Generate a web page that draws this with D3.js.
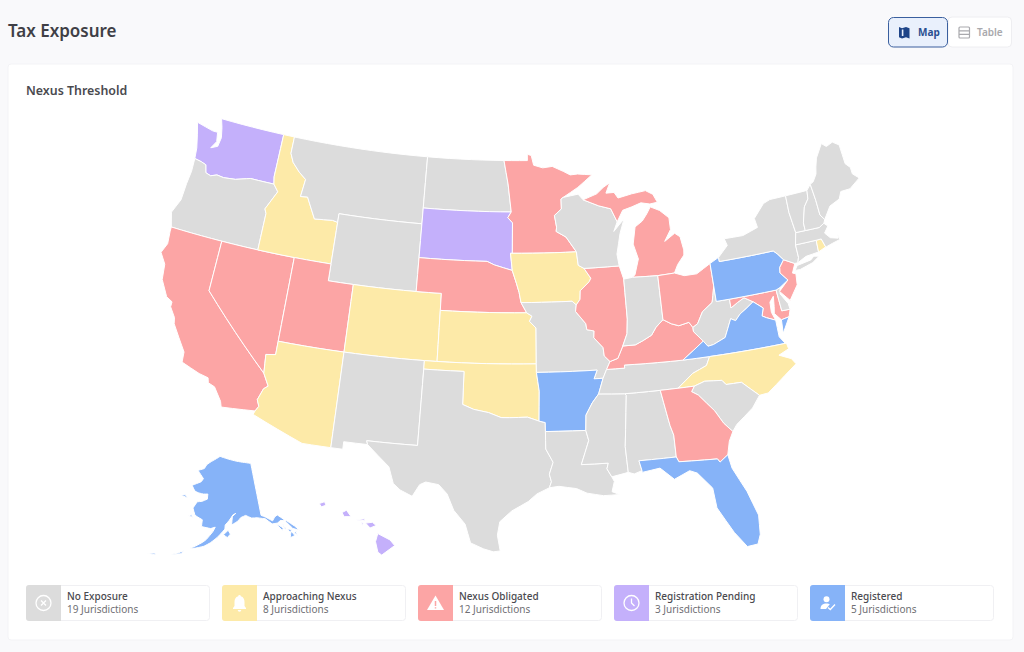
<!DOCTYPE html>
<html>
<head>
<meta charset="utf-8">
<script src="https://cdn.jsdelivr.net/npm/d3@7"></script>
<style>
  html, body { margin: 0; padding: 0; background: #f9f9fb; }
  svg { display: block; font-family: "Noto Sans", "Open Sans", sans-serif; }
</style>
</head>
<body>
<svg id="chart" width="1024" height="652"></svg>
<script>
// Legend
const statusNames = ['No Exposure', 'Approaching Nexus', 'Nexus Obligated', 'Registration Pending', 'Registered'];
const statusCounts = [19, 8, 12, 3, 5];
const statusColors = ['#dcdcdc', '#fdeaa8', '#fca5a5', '#c4b0fb', '#86b3f8'];

// Which state is in which group
const noExposureStates = ['OR', 'MT', 'ND', 'WY', 'NM', 'TX', 'MO', 'LA', 'MS', 'AL', 'TN', 'SC', 'IN', 'WI', 'WV', 'NY', 'VT', 'NH', 'ME', 'MA', 'CT', 'DE'];
const approachingStates = ['ID', 'AZ', 'CO', 'KS', 'OK', 'IA', 'NC', 'RI'];
const obligatedStates = ['CA', 'NV', 'UT', 'NE', 'MN', 'IL', 'MI', 'OH', 'KY', 'GA', 'NJ', 'MD'];
const pendingStates = ['WA', 'SD', 'HI'];
const registeredStates = ['AK', 'AR', 'FL', 'PA', 'VA'];

// State outlines, [lon, lat], each state is a list of rings
const WA = [[[-124.7,48.38],[-123.2,48.15],[-122.75,48.15],[-122.6,47.6],[-122.95,47.15],[-122.4,47.35],[-122.3,47.9],[-122.5,48.5],[-122.75,49],[-117.03,49],[-117.04,46.42],[-116.92,45.995],[-118.98,46],[-119.3,45.93],[-120.2,45.73],[-121.2,45.65],[-121.8,45.7],[-122.3,45.55],[-122.76,45.65],[-122.95,46.1],[-123.4,46.2],[-124,46.27],[-124.1,46.9],[-124.4,47.7]]];
const OR = [[[-124,46.27],[-123.4,46.2],[-122.95,46.1],[-122.76,45.65],[-122.3,45.55],[-121.8,45.7],[-121.2,45.65],[-120.2,45.73],[-119.3,45.93],[-118.98,46],[-116.92,45.995],[-116.46,45.6],[-116.85,45],[-117.2,44.45],[-117.03,44.2],[-117.03,42],[-120,42],[-124.21,42],[-124.55,42.84],[-124.1,43.7],[-124.05,44.7],[-123.95,45.5]]];
const CA = [[[-124.21,42],[-120,42],[-120,39],[-114.63,35],[-114.14,34.3],[-114.43,34.1],[-114.72,33.4],[-114.52,33.03],[-114.72,32.72],[-117.12,32.53],[-117.25,32.85],[-117.9,33.6],[-118.4,33.75],[-118.5,34.03],[-119.2,34.15],[-120.6,34.55],[-120.65,35.15],[-121.9,36.6],[-122,36.95],[-122.5,37.5],[-122.5,37.8],[-123,38],[-123.7,38.9],[-123.85,39.8],[-124.4,40.4],[-124.1,41],[-124.2,41.75]]];
const NV = [[[-120,42],[-117.03,42],[-114.04,42],[-114.04,37],[-114.04,36.2],[-114.75,36.1],[-114.63,35],[-120,39]]];
const ID = [[[-117.03,49],[-116.05,49],[-116.05,48],[-115.7,47.5],[-115,47],[-114.35,46.65],[-114.5,45.6],[-113.9,45.65],[-113.45,45.05],[-113,44.45],[-111.5,44.55],[-111.05,44.48],[-111.05,42],[-114.04,42],[-117.03,42],[-117.03,44.2],[-117.2,44.45],[-116.85,45],[-116.46,45.6],[-116.92,45.995],[-117.04,46.42]]];
const MT = [[[-116.05,49],[-104.05,49],[-104.05,45.94],[-104.05,45],[-111.05,45],[-111.05,44.48],[-111.5,44.55],[-113,44.45],[-113.45,45.05],[-113.9,45.65],[-114.5,45.6],[-114.35,46.65],[-115,47],[-115.7,47.5],[-116.05,48]]];
const WY = [[[-111.05,45],[-104.05,45],[-104.05,43],[-104.05,41],[-109.05,41],[-111.05,41],[-111.05,42]]];
const UT = [[[-114.04,42],[-111.05,42],[-111.05,41],[-109.05,41],[-109.05,37],[-114.04,37]]];
const CO = [[[-109.05,41],[-104.05,41],[-102.05,41],[-102.05,40],[-102.05,37],[-103,37],[-109.05,37]]];
const AZ = [[[-114.04,37],[-109.05,37],[-109.05,31.33],[-111.07,31.33],[-114.81,32.5],[-114.72,32.72],[-114.52,33.03],[-114.72,33.4],[-114.43,34.1],[-114.14,34.3],[-114.63,35],[-114.75,36.1],[-114.04,36.2]]];
const NM = [[[-109.05,37],[-103,37],[-103,36.5],[-103.04,32],[-106.62,32],[-106.53,31.78],[-108.21,31.78],[-108.21,31.33],[-109.05,31.33]]];
const ND = [[[-104.05,49],[-97.23,49],[-96.85,47.6],[-96.56,45.94],[-104.05,45.94]]];
const SD = [[[-104.05,45.94],[-96.56,45.94],[-96.85,45.6],[-96.45,45.3],[-96.45,43.5],[-96.6,43.5],[-96.45,42.49],[-97.9,42.8],[-98.5,43],[-104.05,43],[-104.05,45]]];
const NE = [[[-104.05,43],[-98.5,43],[-97.9,42.8],[-96.45,42.49],[-96.1,41.7],[-95.9,41.2],[-95.75,40.6],[-95.31,40],[-102.05,40],[-102.05,41],[-104.05,41]]];
const KS = [[[-102.05,40],[-95.31,40],[-94.9,39.8],[-95.1,39.5],[-94.6,39.1],[-94.62,37],[-102.05,37]]];
const OK = [[[-103,37],[-94.62,37],[-94.62,36.5],[-94.43,35.4],[-94.48,33.64],[-95.3,33.88],[-96.6,33.85],[-97.2,33.85],[-98.1,34.13],[-99.2,34.3],[-100,34.56],[-100,36.5],[-103,36.5]]];
const TX = [[[-103,36.5],[-100,36.5],[-100,34.56],[-99.2,34.3],[-98.1,34.13],[-97.2,33.85],[-96.6,33.85],[-95.3,33.88],[-94.48,33.64],[-94.04,33.55],[-94.04,33.02],[-94.04,31.99],[-93.55,31.2],[-93.83,30.5],[-93.7,30.05],[-93.85,29.7],[-94.7,29.35],[-95.3,28.9],[-96.4,28.35],[-97.2,27.7],[-97.35,26.9],[-97.15,25.96],[-97.6,25.9],[-98.25,26.07],[-99.1,26.4],[-99.5,27.5],[-100.3,28.3],[-100.8,29.25],[-101.4,29.77],[-102.3,29.88],[-102.7,29.7],[-103.15,28.98],[-104,29.3],[-104.5,29.65],[-104.9,30.6],[-106.53,31.78],[-106.62,32],[-103.04,32]]];
const MN = [[[-97.23,49],[-95.15,49],[-95.15,49.38],[-94.8,49.3],[-94.6,48.72],[-93.8,48.55],[-92.95,48.62],[-92,48.3],[-91.4,48.07],[-90.75,48.1],[-89.5,48],[-90.8,47.3],[-92.1,46.75],[-92.29,46.66],[-92.29,46.07],[-92.9,45.7],[-92.75,45],[-92.8,44.75],[-92,44.4],[-91.2,43.5],[-96.45,43.5],[-96.45,45.3],[-96.85,45.6],[-96.56,45.94],[-96.85,47.6]]];
const IA = [[[-96.6,43.5],[-91.2,43.5],[-91.1,42.7],[-90.65,42.5],[-90.15,41.9],[-90.3,41.7],[-91.05,41.2],[-91.1,40.7],[-91.42,40.38],[-91.73,40.61],[-95.75,40.6],[-95.9,41.2],[-96.1,41.7],[-96.45,42.49]]];
const MO = [[[-95.75,40.6],[-91.73,40.61],[-91.42,40.38],[-91.5,40],[-90.75,39.25],[-90.7,38.9],[-90.15,38.8],[-90.2,38.4],[-89.55,37.8],[-89.5,37.3],[-89.1,36.95],[-89.4,36.5],[-89.7,36],[-90.37,36],[-90.1,36.5],[-94.62,36.5],[-94.62,37],[-94.6,39.1],[-95.1,39.5],[-94.9,39.8],[-95.31,40]]];
const AR = [[[-94.62,36.5],[-90.1,36.5],[-90.37,36],[-89.7,36],[-90.1,35.1],[-90.6,34.6],[-91.1,33.9],[-91.17,33],[-94.04,33.02],[-94.04,33.55],[-94.48,33.64],[-94.43,35.4]]];
const LA = [[[-94.04,33.02],[-91.17,33],[-91,32.4],[-91.6,31],[-89.73,31],[-89.85,30.67],[-89.55,30.18],[-89.4,29.9],[-89.6,29.3],[-89.1,29.1],[-90.2,29.1],[-91.3,29.3],[-92,29.6],[-93.2,29.77],[-93.85,29.7],[-93.7,30.05],[-93.83,30.5],[-93.55,31.2],[-94.04,31.99]]];
const MS = [[[-90.1,35.1],[-88.2,35],[-88.1,34.9],[-88.47,31.9],[-88.4,30.37],[-89.55,30.18],[-89.85,30.67],[-89.73,31],[-91.6,31],[-91,32.4],[-91.17,33],[-91.1,33.9],[-90.6,34.6]]];
const AL = [[[-88.2,35],[-85.6,35],[-85.18,32.87],[-85,32.3],[-85,31],[-87.6,31],[-87.45,30.4],[-88,30.25],[-88.4,30.37],[-88.47,31.9],[-88.1,34.9]]];
const TN = [[[-90.1,35.1],[-89.7,36],[-89.4,36.5],[-88.05,36.5],[-88.05,36.68],[-86.5,36.65],[-83.68,36.6],[-81.68,36.59],[-82,36.1],[-83.1,35.75],[-84.3,35],[-85.6,35],[-88.2,35]]];
const KY = [[[-89.4,36.5],[-89.1,36.95],[-88.5,37.1],[-88.05,37.8],[-87.1,37.8],[-86.5,38],[-85.8,38.27],[-85.4,38.7],[-84.8,39.1],[-84.2,38.8],[-83.65,38.63],[-82.85,38.75],[-82.6,38.42],[-82.6,38.17],[-81.97,37.54],[-83.68,36.6],[-86.5,36.65],[-88.05,36.68],[-88.05,36.5]]];
const IL = [[[-90.65,42.5],[-87.8,42.5],[-87.53,41.7],[-87.53,39.35],[-87.65,38.5],[-88.05,37.8],[-88.5,37.1],[-89.1,36.95],[-89.5,37.3],[-89.55,37.8],[-90.2,38.4],[-90.15,38.8],[-90.7,38.9],[-90.75,39.25],[-91.5,40],[-91.42,40.38],[-91.1,40.7],[-91.05,41.2],[-90.3,41.7],[-90.15,41.9]]];
const WI = [[[-92.29,46.66],[-92.1,46.75],[-90.8,46.9],[-90.4,46.55],[-89.1,46.13],[-88.1,45.9],[-87.65,45.1],[-88,44.55],[-87.05,45.25],[-87.5,44.4],[-87.9,43.2],[-87.8,42.5],[-90.65,42.5],[-91.1,42.7],[-91.2,43.5],[-92,44.4],[-92.8,44.75],[-92.75,45],[-92.9,45.7],[-92.29,46.07]]];
const MI = [
  [[-86.82,41.76],[-84.8,41.7],[-83.45,41.73],[-83.1,42.2],[-82.5,42.7],[-82.45,43],[-82.6,43.8],[-83,44.05],[-83.9,43.65],[-83.3,44.3],[-83.3,45],[-84,45.5],[-84.75,45.78],[-85.1,45.4],[-85.55,45],[-86.2,44.7],[-86.5,43.7],[-86.2,42.8],[-86.6,41.9]],
  [[-90.4,46.55],[-89.1,46.13],[-88.1,45.9],[-87.65,45.1],[-87.1,45.75],[-86.3,45.9],[-85.5,46.08],[-84.75,45.95],[-84.1,46],[-84.4,46.5],[-85,46.77],[-86.2,46.67],[-87.4,46.5],[-87.7,46.85],[-88.4,46.85],[-88,47.45],[-88.6,47.2],[-89.2,46.85]]
];
const IN = [[[-87.53,41.7],[-86.82,41.76],[-84.8,41.7],[-84.8,39.1],[-85.4,38.7],[-85.8,38.27],[-86.5,38],[-87.1,37.8],[-88.05,37.8],[-87.65,38.5],[-87.53,39.35]]];
const OH = [[[-84.8,41.7],[-83.45,41.73],[-82.7,41.5],[-81.7,41.5],[-80.52,41.98],[-80.52,40.64],[-80.7,40.1],[-80.85,39.7],[-81.7,39.25],[-82.2,38.6],[-82.6,38.42],[-82.85,38.75],[-83.65,38.63],[-84.2,38.8],[-84.8,39.1]]];
const WV = [[[-80.52,40.64],[-80.52,39.72],[-79.48,39.72],[-79.48,39.2],[-78.9,39.45],[-78.35,39.65],[-77.72,39.32],[-78.35,39],[-78.87,38.76],[-79.3,38.42],[-79.65,38.58],[-80.3,37.55],[-81.25,37.25],[-81.68,37.2],[-81.97,37.54],[-82.6,38.17],[-82.6,38.42],[-82.2,38.6],[-81.7,39.25],[-80.85,39.7],[-80.7,40.1]]];
const MD = [[[-79.48,39.72],[-75.79,39.72],[-75.7,38.46],[-75.05,38.45],[-75.25,38.03],[-75.87,37.95],[-76.3,38.4],[-76.2,38.8],[-76.1,39.4],[-76.45,39.1],[-76.5,38.5],[-76.3,38],[-76.95,38.25],[-77.25,38.4],[-77.05,38.85],[-77.72,39.32],[-78.35,39.65],[-78.9,39.45],[-79.48,39.2]]];
const DE = [[[-75.79,39.72],[-75.45,39.82],[-75.55,39.45],[-75.1,38.8],[-75.05,38.45],[-75.7,38.46]]];
const PA = [[[-80.52,41.98],[-79.76,42.25],[-79.76,42],[-75.35,42],[-75.05,41.75],[-74.7,41.36],[-75.13,40.97],[-75.2,40.65],[-74.72,40.15],[-75.45,39.82],[-75.79,39.72],[-79.48,39.72],[-80.52,39.72],[-80.52,40.64]]];
const NJ = [[[-74.7,41.36],[-73.9,41],[-74.25,40.48],[-74,40.4],[-74.1,39.75],[-74.9,38.95],[-75.15,39.2],[-75.55,39.6],[-74.72,40.15],[-75.2,40.65],[-75.13,40.97]]];
const NY = [
  [[-79.76,42],[-79.76,42.25],[-78.9,42.85],[-79.05,43.27],[-77.5,43.25],[-76.2,43.55],[-76.3,44.1],[-75.3,44.85],[-74.7,45],[-73.35,45],[-73.4,44],[-73.25,42.75],[-73.5,42.05],[-73.5,41.3],[-73.65,41],[-73.9,41],[-74.7,41.36],[-75.05,41.75],[-75.35,42]],
  [[-74,40.6],[-73.75,40.85],[-72.6,40.98],[-72.3,41.15],[-71.9,41.07],[-72.5,40.8],[-73.6,40.58]]
];
const CT = [[[-73.5,42.05],[-71.8,42.02],[-71.85,41.32],[-72.9,41.25],[-73.65,41],[-73.5,41.3]]];
const RI = [[[-71.8,42.02],[-71.38,42.02],[-71.2,41.5],[-71.85,41.32]]];
const MA = [[[-73.5,42.05],[-73.25,42.75],[-72.46,42.73],[-71.3,42.7],[-70.85,42.87],[-70.6,42.65],[-71,42.3],[-70.65,41.95],[-70.05,41.8],[-70,42.05],[-69.95,41.7],[-70.6,41.6],[-71.12,41.5],[-71.2,41.5],[-71.38,42.02],[-71.8,42.02]]];
const VT = [[[-73.35,45],[-71.5,45],[-71.6,44.5],[-72.05,44.1],[-72.45,43.2],[-72.46,42.73],[-73.25,42.75],[-73.4,44]]];
const NH = [[[-71.5,45],[-71.1,45.3],[-71,44.3],[-70.98,43.4],[-70.7,43.07],[-70.85,42.87],[-71.3,42.7],[-72.46,42.73],[-72.45,43.2],[-72.05,44.1],[-71.6,44.5]]];
const ME = [[[-71.1,45.3],[-70.8,45.4],[-70.4,45.8],[-70.25,46.2],[-70,46.7],[-69.25,47.45],[-68.9,47.2],[-68.3,47.35],[-67.8,47.07],[-67.78,45.9],[-67.45,45.6],[-67.45,45.2],[-67,44.85],[-68,44.4],[-68.8,44.4],[-69.1,44],[-70,43.75],[-70.7,43.07],[-70.98,43.4],[-71,44.3]]];
const VA = [
  [[-83.68,36.6],[-81.97,37.54],[-81.68,37.2],[-81.25,37.25],[-80.3,37.55],[-79.65,38.58],[-79.3,38.42],[-78.87,38.76],[-78.35,39],[-77.72,39.32],[-77.05,38.85],[-77.25,38.4],[-76.95,38.25],[-76.3,38],[-76.3,37.55],[-76.3,37],[-75.95,36.55],[-81.68,36.59]],
  [[-75.87,37.95],[-75.25,38.03],[-75.95,37.15]]
];
const NC = [[[-81.68,36.59],[-75.87,36.55],[-75.8,36.2],[-76.6,35.95],[-75.75,35.6],[-75.5,35.25],[-76.5,34.7],[-77.9,33.9],[-78.55,33.86],[-79.67,34.8],[-80.8,34.82],[-81.05,35.1],[-82.3,35.2],[-83.1,35],[-84.3,35],[-83.1,35.75],[-82,36.1]]];
const SC = [[[-83.35,34.7],[-83.1,35],[-82.3,35.2],[-81.05,35.1],[-80.8,34.82],[-79.67,34.8],[-78.55,33.86],[-79.2,33.2],[-80.5,32.4],[-80.85,32.03],[-81.4,32.6],[-81.9,33.4],[-82.9,34.45]]];
const GA = [[[-85.6,35],[-84.3,35],[-83.1,35],[-83.35,34.7],[-82.9,34.45],[-81.9,33.4],[-81.4,32.6],[-80.85,32.03],[-81.2,31.5],[-81.45,30.72],[-82.05,30.36],[-82.2,30.57],[-84.86,30.7],[-85,31],[-85,32.3],[-85.18,32.87]]];
const FL = [[[-87.6,31],[-85,31],[-84.86,30.7],[-82.2,30.57],[-82.05,30.36],[-81.45,30.72],[-81.3,29.9],[-80.55,28.4],[-80.05,26.9],[-80.15,25.75],[-80.4,25.2],[-81.1,25.15],[-81.8,26.1],[-82.7,27.7],[-82.8,28.9],[-83.7,29.9],[-84.2,30.1],[-85.3,29.7],[-86.2,30.45],[-87.45,30.3],[-87.45,30.4]]];
const AK = [
  [[-141,69.65],[-141,60.3],[-139.5,59.8],[-137.5,58.9],[-136.5,59.45],[-135.4,59.7],[-133.8,58.7],[-131.8,56.6],[-130,55.9],[-131,56.9],[-133,58.3],[-135,58.6],[-136,58.3],[-137.9,58.4],[-139.8,59.55],[-142.5,60],[-144.5,60.1],[-146.5,60.7],[-148.3,60.4],[-149.5,59.8],[-151.7,59.2],[-151.3,60.7],[-150,61.2],[-151,61],[-152.5,60],[-153.9,59.2],[-154,58.5],[-156.5,57],[-158.6,56],[-160.5,55.3],[-163,54.8],[-164.8,54.6],[-163,55.2],[-161,56],[-160,56.5],[-158,58],[-157.3,58.8],[-158.8,58.5],[-162,58.7],[-162,59.9],[-164.8,60.5],[-166,61.7],[-164.8,62.9],[-163,63.1],[-161,63.6],[-161,64.5],[-162.8,64.4],[-165,64.5],[-166.5,64.7],[-168.1,65.6],[-164.5,66.5],[-163.7,67.1],[-166.8,68.4],[-164,68.9],[-163,69.7],[-161,70.3],[-156.6,71.35],[-152,70.85],[-148,70.4],[-144,70]],
  [[-154.5,57.5],[-153.2,57],[-152.2,57.6],[-152.9,58.3]],
  [[-133.5,55.2],[-131.9,55.3],[-132.6,56.3]],
  [[-136.4,58.2],[-134.7,57.2],[-135.2,56.8],[-136,57.6]],
  [[-134.6,58],[-133.9,57],[-134.2,56.9]],
  [[-133.6,56.8],[-132.8,56],[-132.3,56.5]],
  [[-131.8,55.8],[-131.2,55.2],[-131.1,55.9]],
  [[-171.7,63.4],[-168.7,63.3],[-170,63.7]],
  [[-167,60.2],[-165.6,60.1],[-166,60.5]],
  [[-170,52.9],[-168,53.4],[-166.5,54],[-167,53.4]],
  [[-176.5,51.9],[-174,52.1],[-174.5,52.35]]
];
const HI = [
  [[-155.9,20.25],[-155.1,19.85],[-154.8,19.5],[-155.65,18.92],[-155.9,19.1],[-156.05,19.75]],
  [[-156.7,20.9],[-156.25,20.95],[-156,20.75],[-156.4,20.6]],
  [[-157.3,21.1],[-156.75,21.17],[-156.75,21.05]],
  [[-156.98,20.92],[-156.85,20.9],[-156.9,20.75]],
  [[-158.25,21.55],[-157.95,21.7],[-157.65,21.3],[-158.1,21.3]],
  [[-159.75,22.1],[-159.4,22.22],[-159.3,22],[-159.6,21.9]]
];

const stateRings = { WA, OR, CA, NV, ID, MT, WY, UT, CO, AZ, NM, ND, SD, NE, KS, OK, TX, MN, IA, MO, AR, LA, MS, AL, TN, KY, IL, WI, MI, IN, OH, WV, MD, DE, PA, NJ, NY, CT, RI, MA, VT, NH, ME, VA, NC, SC, GA, FL, AK, HI };

const statusLists = [noExposureStates, approachingStates, obligatedStates, pendingStates, registeredStates];
const color = d3.scaleOrdinal().domain(d3.range(5)).range(statusColors);

const svg = d3.select('#chart');

// Page header
svg.append('text').attr('x', 8).attr('y', 37).attr('font-size', 17).attr('font-weight', 600)
  .attr('fill', '#3f3f46').text('Tax Exposure');

// Map / Table toggle
svg.append('rect').attr('x', 948).attr('y', 17).attr('width', 63.5).attr('height', 30).attr('rx', 4)
  .attr('fill', '#fff').attr('stroke', '#eeeef1');
svg.append('rect').attr('x', 888.5).attr('y', 17.5).attr('width', 59).attr('height', 29.5).attr('rx', 5)
  .attr('fill', '#e9f0fc').attr('stroke', '#3a5f9e');
svg.append('path').attr('d', 'M899 27l3 1.2 4-1.2 3.5 1.2v10.3l-3.5-1.2-4 1.2-3-1.2z').attr('fill', '#1e4488');
svg.append('path').attr('d', 'M902.6 29.5v6.5').attr('stroke', '#e9f0fc').attr('stroke-width', 1.6);
svg.append('text').attr('x', 918).attr('y', 35.5).attr('font-size', 10).attr('font-weight', 700)
  .attr('fill', '#2a4f90').text('Map');
svg.append('rect').attr('x', 959).attr('y', 27).attr('width', 10.5).attr('height', 11).attr('rx', 1)
  .attr('fill', 'none').attr('stroke', '#a9a9ad').attr('stroke-width', 1.2);
svg.append('path').attr('d', 'M959 30.8h10.5M959 34.4h10.5').attr('stroke', '#a9a9ad').attr('stroke-width', 1.2);
svg.append('text').attr('x', 977).attr('y', 35.5).attr('font-size', 10).attr('font-weight', 600)
  .attr('fill', '#a9a9ad').text('Table');

// Card
svg.append('rect').attr('x', 8).attr('y', 64).attr('width', 1005).attr('height', 576).attr('rx', 3)
  .attr('fill', '#fff').attr('stroke', '#f3f3f6');
svg.append('text').attr('x', 26).attr('y', 95).attr('font-size', 12.4).attr('font-weight', 600)
  .attr('fill', '#4a4a4f').text('Nexus Threshold');

// Projections: lower 48 plus moved insets for Alaska and Hawaii
const lower48 = d3.geoAlbers().scale(968).translate([510, 335]);
const alaska = d3.geoConicEqualArea().rotate([154, 0]).center([-2, 58.5]).parallels([55, 65])
  .scale(325).translate([219, 529]);
const hawaii = d3.geoConicEqualArea().rotate([157, 0]).center([-3, 19.9]).parallels([8, 18])
  .scale(930).translate([315, 539]);
const pathFor = { lower: d3.geoPath(lower48), AK: d3.geoPath(alaska), HI: d3.geoPath(hawaii) };

// Long borders follow the parallels, so split them before projecting
function splitEdges(ring) {
  const out = [];
  ring.forEach((p, i) => {
    const q = ring[(i + 1) % ring.length];
    const steps = Math.max(Math.ceil(Math.max(Math.abs(q[0] - p[0]), Math.abs(q[1] - p[1]))), 1);
    d3.range(steps).forEach(s => {
      out.push([p[0] + (q[0] - p[0]) * s / steps, p[1] + (q[1] - p[1]) * s / steps]);
    });
  });
  out.push(out[0]);
  // d3 wants clockwise rings, flip if this one covers the rest of the globe
  return d3.geoArea({ type: 'Polygon', coordinates: [out] }) > 2 * Math.PI ? out.reverse() : out;
}

const states = Object.keys(stateRings).map(code => ({
  code,
  status: statusLists.findIndex(list => list.includes(code)),
  geo: { type: 'MultiPolygon', coordinates: stateRings[code].map(r => [splitEdges(r)]) }
}));

svg.append('g').selectAll('path').data(states).join('path')
  .attr('d', d => (pathFor[d.code] || pathFor.lower)(d.geo))
  .attr('fill', d => color(d.status))
  .attr('stroke', '#fff').attr('stroke-width', 1).attr('stroke-linejoin', 'round');

// Legend row
const legendX = d3.scaleBand().domain(d3.range(5)).range([26, 994]).paddingInner(12 / 196);
const legendY = 585, legendH = 36, swatchW = 35;

const icons = [
  g => {
    g.append('circle').attr('r', 7.5).attr('fill', 'none').attr('stroke', '#fff').attr('stroke-width', 1.3);
    g.append('path').attr('d', 'M-2.5-2.5L2.5 2.5M2.5-2.5L-2.5 2.5').attr('stroke', '#fff').attr('stroke-width', 1.3);
  },
  g => {
    g.append('path').attr('d', 'M0-8a1.3 1.3 0 0 1 1.3 1.3C4 -6 5 -3.5 5 -1V3L6.5 5V6H-6.5V5L-5 3V-1C-5 -3.5 -4 -6 -1.3 -6.7A1.3 1.3 0 0 1 0-8zM-1.8 7H1.8A1.8 1.8 0 0 1 -1.8 7z').attr('fill', '#fff');
  },
  g => {
    g.append('path').attr('d', 'M0-7.5L8.5 7H-8.5z').attr('fill', '#fff');
    g.append('path').attr('d', 'M0-2V3M0 4.2V5.6').attr('stroke', color(2)).attr('stroke-width', 1.5);
  },
  g => {
    g.append('circle').attr('r', 7.5).attr('fill', 'none').attr('stroke', '#fff').attr('stroke-width', 1.3);
    g.append('path').attr('d', 'M0-4.5V0L3 3').attr('fill', 'none').attr('stroke', '#fff').attr('stroke-width', 1.3);
  },
  g => {
    g.append('circle').attr('cx', -1).attr('cy', -3.8).attr('r', 3).attr('fill', '#fff');
    g.append('path').attr('d', 'M-7 6C-7 2 -4.5 0.5 -1 0.5C0.5 0.5 1.5 0.8 2.3 1.2L-1.5 6z').attr('fill', '#fff');
    g.append('path').attr('d', 'M0.5 4.5L2.8 6.5L7.5 1.5').attr('fill', 'none').attr('stroke', '#fff').attr('stroke-width', 1.3);
  }
];

const legend = svg.append('g').selectAll('g').data(statusNames).join('g')
  .attr('transform', (d, i) => `translate(${legendX(i)},${legendY})`);

legend.append('rect').attr('x', 0.5).attr('y', 0.5).attr('width', legendX.bandwidth() - 1).attr('height', legendH - 1)
  .attr('rx', 3).attr('fill', '#fff').attr('stroke', '#f0f0f3');
legend.append('path')
  .attr('d', `M${swatchW} 0H3a3 3 0 0 0 -3 3V${legendH - 3}a3 3 0 0 0 3 3H${swatchW}z`)
  .attr('fill', (d, i) => color(i));
legend.append('g').attr('transform', `translate(${swatchW / 2},${legendH / 2})`)
  .each(function (d, i) { icons[i](d3.select(this)); });
legend.append('text').attr('x', 41).attr('y', 15).attr('font-size', 10).attr('font-weight', 500)
  .attr('fill', '#4a4a4f').text(d => d);
legend.append('text').attr('x', 41).attr('y', 28).attr('font-size', 10)
  .attr('fill', '#6f6f74').text((d, i) => `${statusCounts[i]} Jurisdictions`);
</script>
</body>
</html>
